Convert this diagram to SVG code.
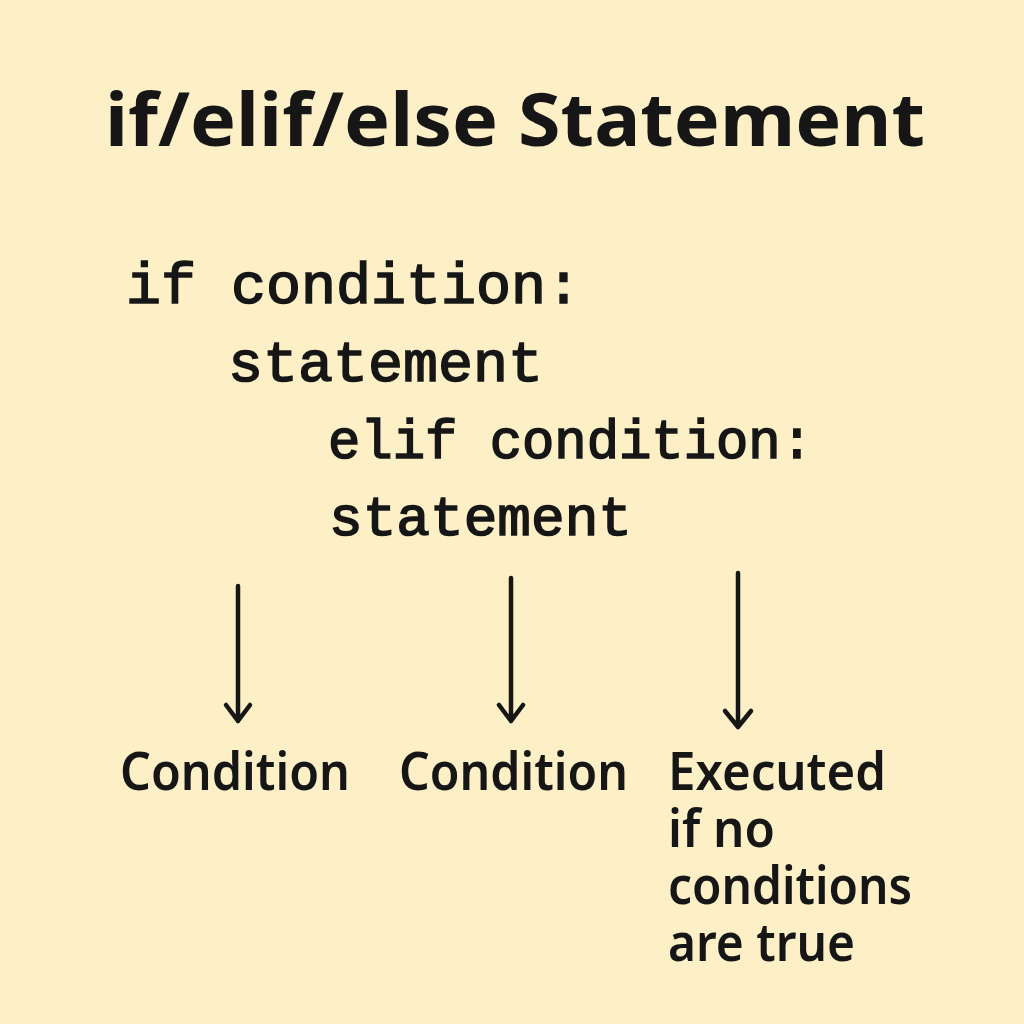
<svg xmlns="http://www.w3.org/2000/svg" width="1024" height="1024" viewBox="0 0 1024 1024">
<defs>
<style>
.title{font-family:"Noto Sans","Open Sans",sans-serif;font-weight:700;font-size:74px;fill:#161616}
.code{font-family:"Liberation Mono","Courier New",monospace;font-weight:normal;fill:#161616;stroke:#161616;stroke-width:1.6}
.label{font-family:"Noto Sans","Open Sans",sans-serif;font-weight:600;font-size:53px;fill:#161616}
.arrow{stroke:#161616;stroke-width:4.5;fill:none;stroke-linecap:round;stroke-linejoin:round}
</style>
</defs>
<rect width="1024" height="1024" fill="#FDF0C7"/>
<g id="title"><text class="title" x="105" y="146" textLength="820" lengthAdjust="spacingAndGlyphs">if/elif/else Statement</text></g>
<g id="code">
<text class="code" x="126" y="303" font-size="58" textLength="455" lengthAdjust="spacingAndGlyphs">if condition:</text>
<text class="code" x="228" y="381" font-size="58" textLength="315" lengthAdjust="spacingAndGlyphs">statement</text>
<text class="code" x="328" y="458" font-size="55" textLength="485" lengthAdjust="spacingAndGlyphs">elif condition:</text>
<text class="code" x="329" y="535" font-size="55" textLength="303" lengthAdjust="spacingAndGlyphs">statement</text>
</g>
<g id="connectors">
<path class="arrow" d="M238 586 V721 M226 705 L238 721 L250 705"/>
<path class="arrow" d="M511 578 V721 M499 705 L511 721 L523 705"/>
<path class="arrow" d="M738 573 V727 M725 711 L738 727 L751 711"/>
</g>
<g id="label1"><text class="label" x="120" y="790" textLength="230" lengthAdjust="spacingAndGlyphs">Condition</text></g>
<g id="label2"><text class="label" x="399" y="790" textLength="229" lengthAdjust="spacingAndGlyphs">Condition</text></g>
<g id="label3">
<text class="label" x="668" y="790" textLength="218" lengthAdjust="spacingAndGlyphs">Executed</text>
<text class="label" x="668" y="847" textLength="107" lengthAdjust="spacingAndGlyphs">if no</text>
<text class="label" x="668" y="904" textLength="244" lengthAdjust="spacingAndGlyphs">conditions</text>
<text class="label" x="668" y="961" textLength="187" lengthAdjust="spacingAndGlyphs">are true</text>
</g>
</svg>
